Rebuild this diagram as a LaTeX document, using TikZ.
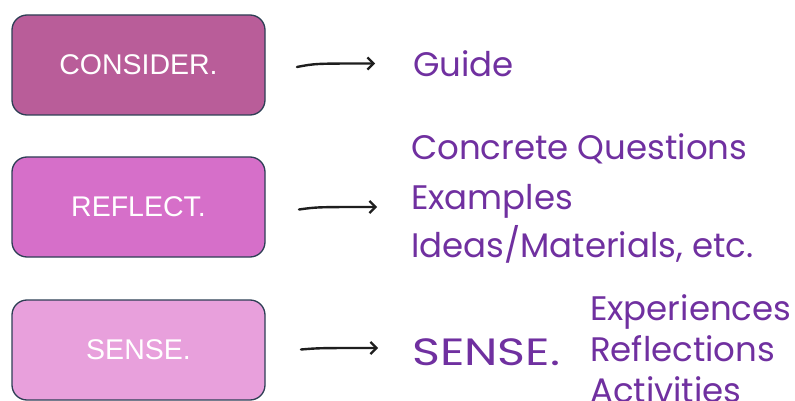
\documentclass[tikz,border=0pt]{standalone}
\usepackage{fontspec}
\setmainfont{Liberation Sans}
\newfontfamily\listfont{Poppins}
\usetikzlibrary{arrows.meta}
\definecolor{boxA}{RGB}{185,93,153}
\definecolor{boxB}{RGB}{214,111,201}
\definecolor{boxC}{RGB}{232,160,220}
\definecolor{boxline}{RGB}{46,63,85}
\definecolor{listcol}{RGB}{112,48,160}
\definecolor{arrowcol}{RGB}{30,30,30}
\tikzset{
  stagebox/.style={draw=boxline, line width=1.3pt, rounded corners=15pt,
    minimum width=253pt, minimum height=100pt, inner sep=0pt,
    text=white, font=\fontsize{28.5}{32}\selectfont},
  itemtext/.style={anchor=base west, inner sep=0pt, text=listcol,
    font=\listfont\fontsize{34}{38}\selectfont},
  bigtext/.style={itemtext, font=\listfont\fontsize{38}{42}\selectfont},
  handarrow/.style={draw=arrowcol, line width=2.4pt, line cap=round,
    -{Straight Barb[length=6pt,width=12pt,line width=2.2pt]}},
}
\begin{document}
\begin{tikzpicture}[x=1pt,y=-1pt]
\clip (0,0) rectangle (795,401);
\fill[white] (0,0) rectangle (795,401);
\node[stagebox, fill=boxA] (consider) at (138.5,65) {CONSIDER.};
\node[stagebox, fill=boxB] (reflect) at (138.5,207) {REFLECT.};
\node[stagebox, fill=boxC] (sense) at (138.5,350) {SENSE.};
\coordinate (a1s) at (297,67); \coordinate (a1e) at (375,63.5);
\coordinate (a2s) at (299,209.5); \coordinate (a2e) at (377,207);
\coordinate (a3s) at (301,349.5); \coordinate (a3e) at (378,348);
\draw[handarrow] (a1s) .. controls (315,63.5) .. (a1e);
\draw[handarrow] (a2s) .. controls (317,207) .. (a2e);
\draw[handarrow] (a3s) .. controls (319,348) .. (a3e);
\node[itemtext] (guide) at (413,77) {Guide};
\node[itemtext] (concrete) at (411,160) {Concrete Questions};
\node[itemtext] (examples) at (411,209) {Examples};
\node[itemtext] (ideas) at (411,257) {Ideas/Materials, etc.};
\node[bigtext] (sensetxt) at (412,365) {\scalebox{1.25}[1]{SENSE.}};
\node[itemtext] (exper) at (590,320) {Experiences};
\node[itemtext] (reflec) at (590,361) {Reflections};
\node[itemtext] (activ) at (590,402) {Activities};
\end{tikzpicture}
\end{document}
